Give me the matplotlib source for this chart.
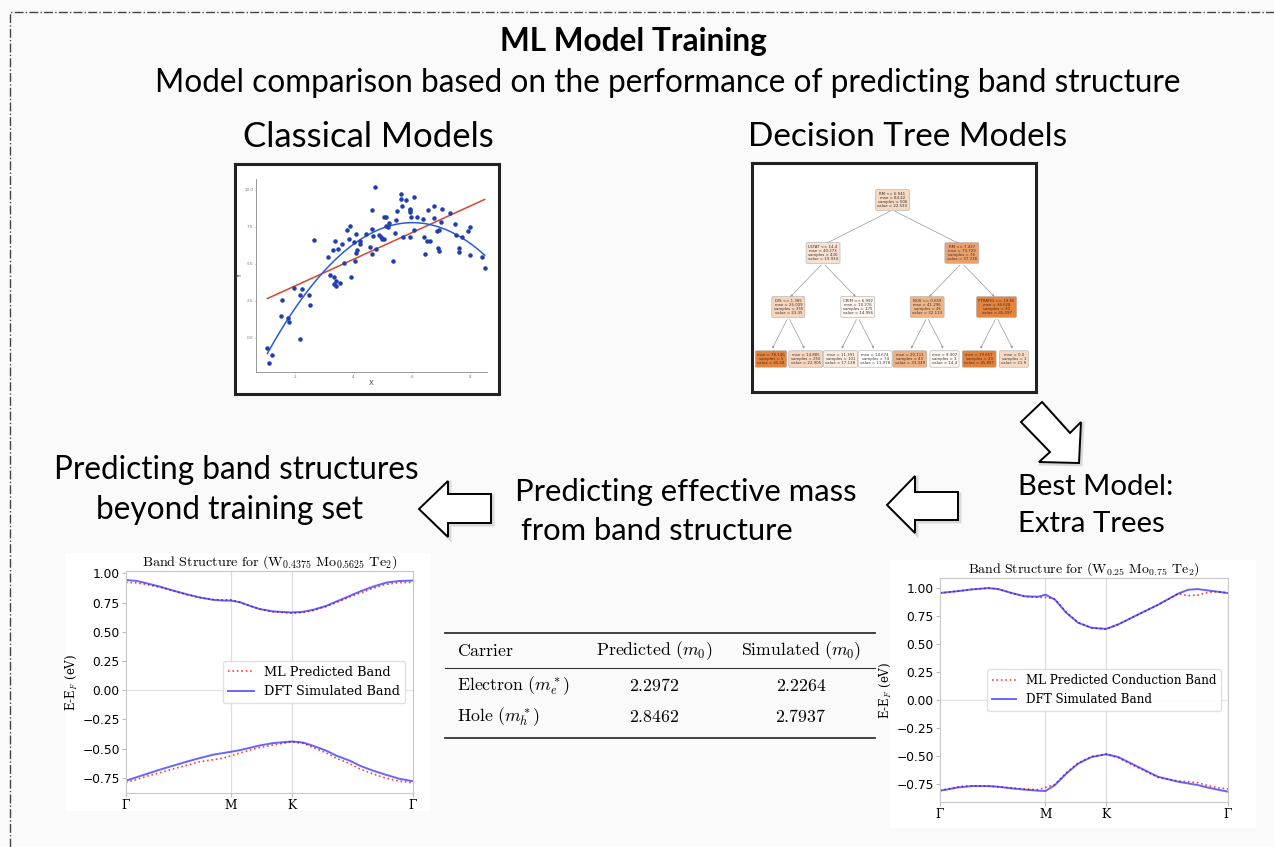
import numpy as np
import matplotlib.pyplot as plt
from matplotlib.patches import Polygon, Rectangle

plt.rcParams['mathtext.fontset'] = 'cm'

W, H = 1274, 847

# ---- classical models panel: scatter sample ----
scatter_x = [1.05, 1.11, 1.22, 1.50, 1.56, 1.77, 1.79, 1.97, 2.15, 2.17, 2.22, 2.46, 2.50, 2.65,
             3.12, 3.19, 3.31, 3.36, 3.34, 3.33, 3.41, 3.39, 3.47, 3.55, 3.60, 3.66, 3.77, 3.86,
             3.89, 3.91, 4.02, 4.05, 4.09, 4.09, 4.13, 4.21, 4.22, 4.43, 4.57, 4.63, 4.63, 4.64,
             4.65, 4.73, 4.77, 4.86, 4.95, 4.96, 5.03, 5.05, 5.10, 5.12, 5.17, 5.23, 5.35, 5.41,
             5.44, 5.49, 5.62, 5.65, 5.63, 5.68, 5.79, 5.92, 5.93, 5.94, 5.95, 5.97, 6.06, 6.08,
             6.19, 6.37, 6.42, 6.45, 6.51, 6.54, 6.61, 6.77, 6.74, 6.86, 6.88, 6.94, 6.94, 7.02,
             7.00, 7.31, 7.49, 7.51, 7.61, 7.61, 7.70, 7.91, 7.98, 8.00, 8.40, 8.49]
scatter_y = [-0.65, -1.72, -1.17, 1.51, 2.57, 1.33, 1.06, 3.39, 2.89, -0.05, 3.30, 2.89, 2.19, 6.59,
             5.44, 4.27, 5.94, 6.52, 4.09, 3.61, 3.52, 3.84, 6.00, 3.68, 6.34, 5.08, 7.27, 6.68,
             7.52, 4.09, 6.50, 5.21, 5.71, 7.02, 5.94, 6.55, 6.34, 7.02, 6.12, 7.36, 5.64, 8.60,
             6.88, 10.18, 5.98, 6.95, 6.82, 6.66, 8.15, 6.70, 8.15, 7.52, 7.45, 7.74, 5.17, 7.11,
             7.97, 8.56, 9.73, 8.87, 9.39, 6.84, 9.32, 6.84, 8.71, 8.60, 8.47, 8.19, 9.53, 7.25,
             8.19, 8.04, 6.79, 5.67, 6.55, 8.65, 6.57, 8.92, 8.06, 7.22, 6.05, 7.25, 5.89, 8.67,
             7.81, 8.42, 7.67, 6.93, 6.07, 5.82, 6.79, 7.20, 7.47, 5.62, 5.44, 4.72]

# ---- decision tree panel (breadth-first, depth 3) ----
tree_splits = ["RM <= 6.941", "LSTAT <= 14.4", "RM <= 7.437", "DIS <= 1.385",
               "CRIM <= 6.992", "NOX <= 0.659", "PTRATIO <= 19.65"]
tree_mse = [84.42, 40.273, 79.729, 26.009, 19.276, 41.296, 36.628,
            78.146, 14.885, 11.391, 14.674, 20.111, 9.307, 19.657, 0.0]
tree_samples = [506, 430, 76, 255, 175, 46, 30, 5, 250, 101, 74, 43, 3, 29, 1]
tree_values = [22.533, 19.934, 37.238, 23.35, 14.956, 32.113, 45.097,
               45.58, 22.905, 17.138, 11.978, 33.349, 14.4, 45.897, 21.9]

# ---- band structures ----
hs_labels = ["Γ", "M", "K", "Γ"]
hs_pos = [0.0, 0.866, 1.366, 2.366]

kL = [0.0, 0.088, 0.17, 0.28, 0.39, 0.5, 0.609, 0.719, 0.801, 0.866, 0.939, 1.021, 1.103,
      1.213, 1.366, 1.46, 1.543, 1.652, 1.735, 1.845, 1.927, 2.037, 2.146, 2.256, 2.366]
cbL_dft = [0.943, 0.935, 0.915, 0.886, 0.852, 0.821, 0.793, 0.773, 0.767, 0.767, 0.753, 0.722, 0.694,
           0.674, 0.665, 0.671, 0.688, 0.722, 0.759, 0.807, 0.844, 0.886, 0.921, 0.935, 0.938]
cbL_ml = [0.923, 0.918, 0.904, 0.881, 0.850, 0.818, 0.793, 0.776, 0.773, 0.773, 0.753, 0.722, 0.694,
          0.671, 0.659, 0.665, 0.682, 0.716, 0.750, 0.798, 0.830, 0.872, 0.906, 0.921, 0.923]
vbL_dft = [-0.774, -0.745, -0.717, -0.680, -0.646, -0.612, -0.581, -0.552, -0.538, -0.527, -0.513,
           -0.493, -0.473, -0.453, -0.439, -0.448, -0.476, -0.518, -0.561, -0.603, -0.646, -0.689,
           -0.725, -0.759, -0.779]
vbL_ml = [-0.788, -0.766, -0.737, -0.706, -0.674, -0.643, -0.612, -0.595, -0.581, -0.561, -0.538,
          -0.513, -0.490, -0.470, -0.442, -0.456, -0.490, -0.538, -0.583, -0.629, -0.674, -0.717,
          -0.754, -0.779, -0.793]

kR = [0.0, 0.15, 0.26, 0.397, 0.479, 0.588, 0.698, 0.807, 0.866, 0.944, 1.039, 1.135, 1.245,
      1.366, 1.463, 1.627, 1.792, 1.956, 2.038, 2.12, 2.202, 2.284, 2.366]
cbR_dft = [0.956, 0.973, 0.988, 1.000, 0.991, 0.956, 0.926, 0.923, 0.941, 0.897, 0.778, 0.690,
           0.645, 0.636, 0.675, 0.764, 0.852, 0.950, 0.985, 0.991, 0.979, 0.967, 0.956]
cbR_ml = [0.956, 0.973, 0.988, 1.000, 0.991, 0.956, 0.926, 0.917, 0.917, 0.902, 0.784, 0.693,
          0.645, 0.633, 0.675, 0.761, 0.849, 0.950, 0.932, 0.938, 0.962, 0.967, 0.956]
vbR_dft = [-0.809, -0.780, -0.768, -0.768, -0.774, -0.788, -0.800, -0.809, -0.812, -0.759, -0.655,
           -0.567, -0.508, -0.484, -0.508, -0.596, -0.685, -0.729, -0.744, -0.759, -0.782, -0.800,
           -0.818]
vbR_ml = [-0.809, -0.774, -0.765, -0.768, -0.774, -0.785, -0.794, -0.800, -0.780, -0.753, -0.647,
          -0.561, -0.505, -0.481, -0.514, -0.603, -0.691, -0.723, -0.729, -0.738, -0.765, -0.782,
          -0.794]

# ---- effective mass table ----
table_header = [r"$\mathrm{Carrier}$", r"$\mathrm{Predicted}\ (m_0)$", r"$\mathrm{Simulated}\ (m_0)$"]
table_rows = [r"$\mathrm{Electron}\ (m_e^*)$", r"$\mathrm{Hole}\ (m_h^*)$"]
predicted_mass = [2.2972, 2.8462]
simulated_mass = [2.2264, 2.7937]


def px_axes(fig, x0, y0, x1, y1, **kw):
    return fig.add_axes([x0 / W, 1 - y1 / H, (x1 - x0) / W, (y1 - y0) / H], **kw)


def block_arrow(ax, pts):
    sh = Polygon([(x + 2, y + 2) for x, y in pts], closed=True, fc="none", ec="#999999",
                 lw=2, alpha=0.35, zorder=2)
    ax.add_patch(sh)
    ax.add_patch(Polygon(pts, closed=True, fc="white", ec="black", lw=1.4, zorder=3))


def band_panel(ax, k, cb_dft, cb_ml, vb_dft, vb_ml, ml_label, title, ylim, title_size, leg_size):
    for x in hs_pos[1:-1]:
        ax.axvline(x, color="#dddddd", lw=0.9, zorder=0)
    ax.axhline(0, color="#e3e3e3", lw=0.9, zorder=0)
    ax.plot(k, cb_ml, ":", color="red", lw=1.2, alpha=0.75, label=ml_label)
    ax.plot(k, cb_dft, "-", color="blue", lw=1.4, alpha=0.6, label="DFT Simulated Band")
    ax.plot(k, vb_ml, ":", color="red", lw=1.2, alpha=0.75)
    ax.plot(k, vb_dft, "-", color="blue", lw=1.4, alpha=0.6)
    ax.set_xlim(hs_pos[0], hs_pos[-1])
    ax.set_ylim(*ylim)
    ax.set_xticks(hs_pos)
    ax.set_xticklabels(hs_labels, family="DejaVu Serif", fontsize=9.5)
    ax.set_yticks([1.0, 0.75, 0.5, 0.25, 0.0, -0.25, -0.5, -0.75])
    ax.set_yticklabels(["1.00", "0.75", "0.50", "0.25", "0.00", "−0.25", "−0.50", "−0.75"])
    ax.tick_params(labelsize=8.8, length=3, color="#bbbbbb", pad=1.5)
    for s in ax.spines.values():
        s.set_color("#c8c8c8")
    ax.set_ylabel(r"E-E$_F$ (eV)", family="DejaVu Serif", fontsize=8.5, labelpad=2)
    ax.set_title(title, fontsize=title_size, pad=3)
    leg = ax.legend(loc="center right", prop={"family": "DejaVu Serif", "size": leg_size},
                    handlelength=2.0, borderaxespad=0.6, framealpha=0.9)
    leg.get_frame().set_edgecolor("#dddddd")


def main():
    fig = plt.figure(figsize=(W / 100, H / 100), dpi=100, facecolor="#fafafa")
    bg = px_axes(fig, 0, 0, W, H)
    bg.set_xlim(0, W)
    bg.set_ylim(H, 0)
    bg.axis("off")

    # dash-dot frame
    bg.plot([10, 10, W], [H, 12, 12], ls="-.", color="#444444", lw=1.0)

    font = "Lato"
    bg.text(633, 41, "ML Model Training", ha="center", va="center", fontsize=22.8,
            fontweight="bold", family=font)
    bg.text(668, 83, "Model comparison based on the performance of predicting band structure",
            ha="center", va="center", fontsize=22.7, family=font)
    bg.text(368, 137, "Classical Models", ha="center", va="center", fontsize=25, family=font)
    bg.text(908, 137, "Decision Tree Models", ha="center", va="center", fontsize=24,
            family=font)
    bg.text(236, 470, "Predicting band structures", ha="center", va="center", fontsize=22.7,
            family=font)
    bg.text(230, 510, "beyond training set", ha="center", va="center", fontsize=22.7,
            family=font)
    bg.text(515, 492, "Predicting effective mass", ha="left", va="center", fontsize=22.3,
            family=font)
    bg.text(521, 531, "from band structure", ha="left", va="center", fontsize=22.3, family=font)
    bg.text(1018, 487, "Best Model:", ha="left", va="center", fontsize=21.2, family=font)
    bg.text(1018, 524, "Extra Trees", ha="left", va="center", fontsize=21.2, family=font)

    # block arrows
    block_arrow(bg, [(1042, 402), (1070, 433), (1081, 422), (1079, 463), (1039, 462),
                     (1050, 452), (1021, 422)])
    block_arrow(bg, [(419, 509), (448, 481), (448, 494), (491, 494), (491, 523), (448, 523),
                     (448, 537)])
    block_arrow(bg, [(887, 505), (915, 476), (915, 492), (958, 492), (958, 520), (915, 520),
                     (915, 533)])

    # white panels behind the band plots
    bg.add_patch(Rectangle((66, 553), 364, 258, fc="white", ec="none", zorder=1))
    bg.add_patch(Rectangle((890, 560), 366, 268, fc="white", ec="none", zorder=1))

    # effective mass table
    for y, lw in [(633, 1.3), (668, 0.8), (738, 1.3)]:
        bg.plot([445, 875], [y, y], color="#333333", lw=lw)
    fs = 12.8
    bg.text(457, 651, table_header[0], ha="left", va="center", fontsize=fs)
    bg.text(654, 651, table_header[1], ha="center", va="center", fontsize=fs)
    bg.text(801, 651, table_header[2], ha="center", va="center", fontsize=fs)
    for i, y in enumerate([686, 717]):
        bg.text(457, y, table_rows[i], ha="left", va="center", fontsize=fs)
        bg.text(654, y, r"$\mathrm{%.4f}$" % predicted_mass[i], ha="center", va="center",
                fontsize=fs)
        bg.text(801, y, r"$\mathrm{%.4f}$" % simulated_mass[i], ha="center", va="center",
                fontsize=fs)

    # classical models thumbnail
    frame = px_axes(fig, 235, 164, 499, 394)
    frame.set_xticks([])
    frame.set_yticks([])
    for s in frame.spines.values():
        s.set_linewidth(2.2)
        s.set_color("#222222")
    sc = px_axes(fig, 256, 179, 487, 372)
    sc.patch.set_alpha(0)
    sc.scatter(scatter_x, scatter_y, s=5, color="#1f3fb0", zorder=3)
    xs = np.linspace(min(scatter_x), max(scatter_x), 200)
    lin = np.polyfit(scatter_x, scatter_y, 1)
    quad = np.polyfit(scatter_x, scatter_y, 2)
    sc.plot(xs, np.polyval(lin, xs), color="#d9452b", lw=1.1)
    sc.plot(xs, np.polyval(quad, xs), color="#2b5ad6", lw=1.1)
    sc.set_xlim(0.66, 8.57)
    sc.set_ylim(-2.3, 10.72)
    sc.set_xticks([2, 4, 6, 8])
    sc.set_yticks([0, 2.5, 5, 7.5, 10])
    sc.set_yticklabels(["0.0", "2.5", "5.0", "7.5", "10.0"])
    sc.tick_params(labelsize=3, length=1, width=0.4, colors="#777777", pad=1)
    for s in ["top", "right"]:
        sc.spines[s].set_visible(False)
    for s in ["left", "bottom"]:
        sc.spines[s].set_color("#888888")
        sc.spines[s].set_linewidth(0.6)
    sc.set_xlabel("X", fontsize=5, labelpad=1, color="#444444")
    sc.set_ylabel("Y", fontsize=5, labelpad=1, color="#444444")

    # decision tree thumbnail
    tr = px_axes(fig, 752, 163, 1036, 392)
    tr.set_xlim(752, 1036)
    tr.set_ylim(392, 163)
    tr.set_xticks([])
    tr.set_yticks([])
    for s in tr.spines.values():
        s.set_linewidth(2.2)
        s.set_color("#222222")
    vmin, vmax = min(tree_values), max(tree_values)
    base = np.array([229, 129, 57]) / 255.0
    level_y = [200, 253, 307, 359]
    leaf_x = [771 + 34.7 * i for i in range(8)]
    node_x = [0.0] * 15
    for i in range(8):
        node_x[7 + i] = leaf_x[i]
    for i in range(6, -1, -1):
        node_x[i] = 0.5 * (node_x[2 * i + 1] + node_x[2 * i + 2])
    node_y = [level_y[int(np.log2(i + 1))] for i in range(15)]
    for i in range(7):
        for c in (2 * i + 1, 2 * i + 2):
            tr.annotate("", xy=(node_x[c], node_y[c] - 8), xytext=(node_x[i], node_y[i] + 10),
                        arrowprops=dict(arrowstyle="-|>", color="#999999", lw=0.5,
                                        mutation_scale=3))
    for i in range(15):
        a = (tree_values[i] - vmin) / (vmax - vmin)
        col = base * a + (1 - a)
        lines = []
        if i < 7:
            lines.append(tree_splits[i])
        lines += ["mse = %s" % tree_mse[i], "samples = %d" % tree_samples[i],
                  "value = %s" % tree_values[i]]
        tr.text(node_x[i], node_y[i], "\n".join(lines), ha="center", va="center", fontsize=2.75,
                linespacing=1.1, color="#333333",
                bbox=dict(boxstyle="round,pad=0.5,rounding_size=0.3", fc=col, ec="#aaaaaa",
                          lw=0.4))

    # band structure panels
    axL = px_axes(fig, 126, 571, 413, 793)
    band_panel(axL, kL, cbL_dft, cbL_ml, vbL_dft, vbL_ml, "ML Predicted Band",
               r"$\mathrm{Band\ Structure\ for\ (W_{0.4375}\ Mo_{0.5625}\ Te_2)}$",
               (-0.88, 1.02), 10.2, 9.3)
    axR = px_axes(fig, 940, 578, 1228, 802)
    band_panel(axR, kR, cbR_dft, cbR_ml, vbR_dft, vbR_ml, "ML Predicted Conduction Band",
               r"$\mathrm{Band\ Structure\ for\ (W_{0.25}\ Mo_{0.75}\ Te_2)}$",
               (-0.91, 1.09), 10.0, 8.6)

    fig.savefig("out.png", dpi=100, facecolor=fig.get_facecolor())


if __name__ == "__main__":
    main()
